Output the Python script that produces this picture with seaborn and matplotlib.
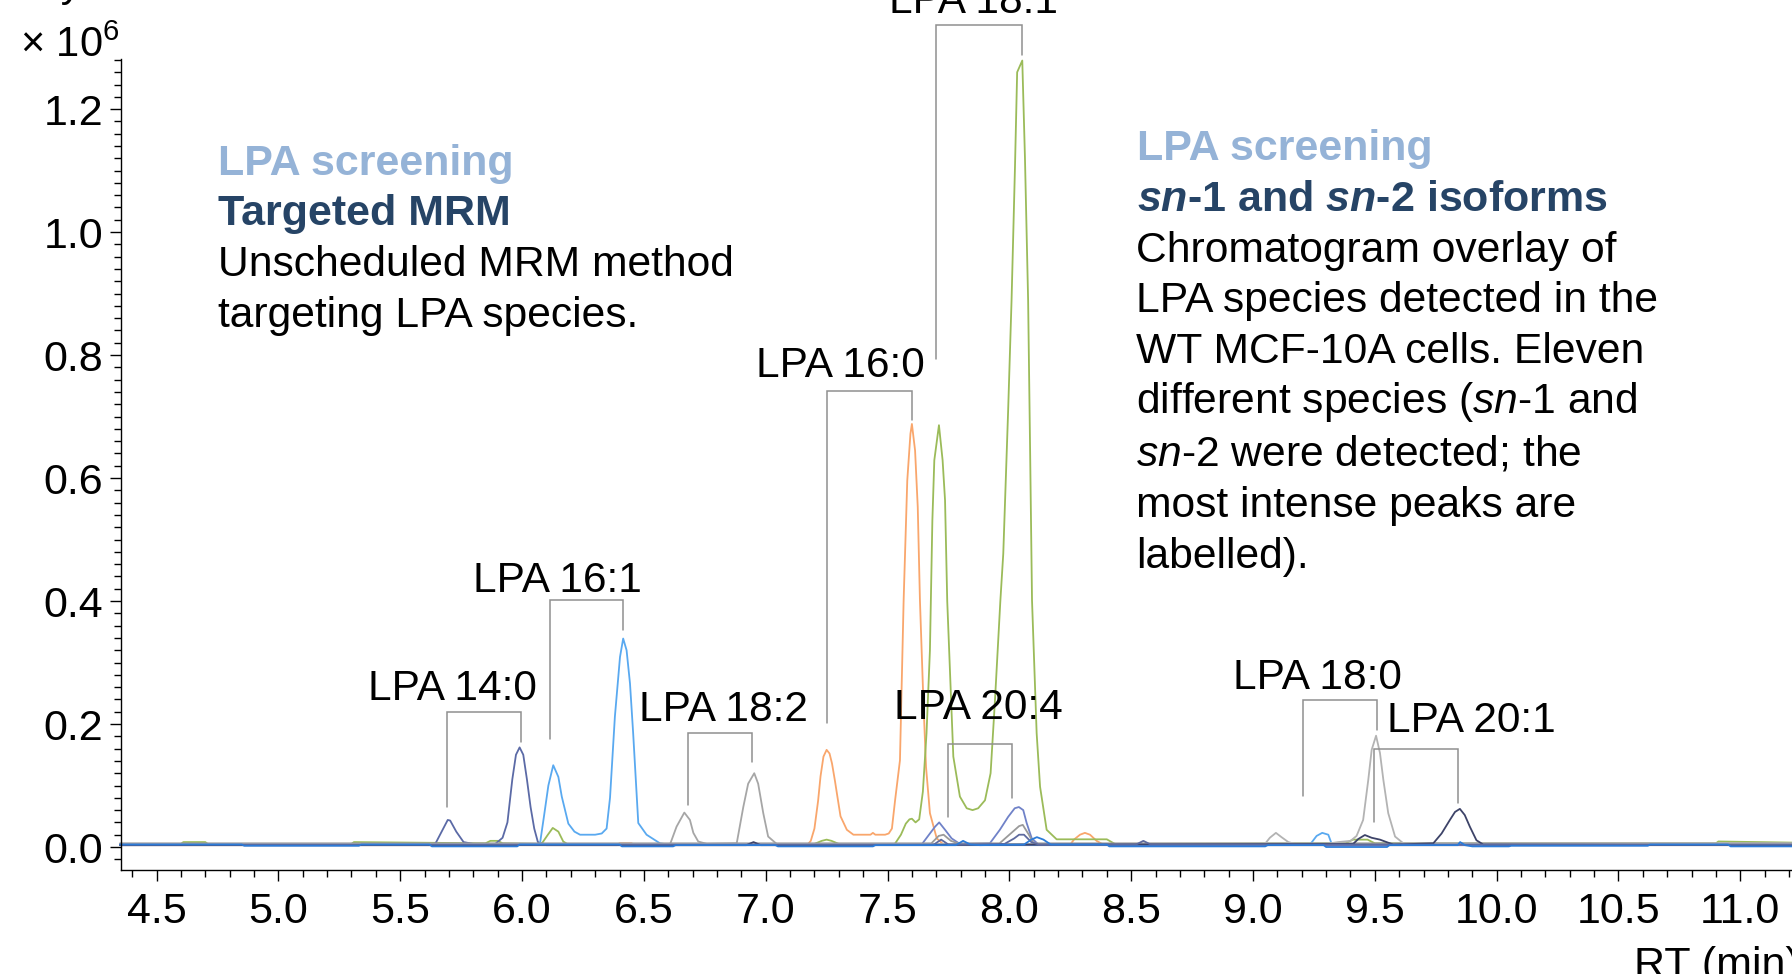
import matplotlib
matplotlib.use("Agg")
import matplotlib.pyplot as plt
import seaborn as sns
import pandas as pd
from matplotlib.ticker import MultipleLocator, FormatStrFormatter

# ---------------- data (intensity in units of 10^6 cps) ----------------
rt_160 = [4.35, 5.0, 6.39, 6.40, 6.45, 6.46, 7.17, 7.185, 7.20, 7.215, 7.225, 7.237, 7.25, 7.262, 7.272, 7.284,
          7.295, 7.307, 7.333, 7.36, 7.43, 7.44, 7.45, 7.49, 7.505, 7.518, 7.531, 7.551, 7.566, 7.581, 7.594, 7.60,
          7.613, 7.624, 7.633, 7.647, 7.658, 7.674, 7.702, 7.73, 8.25, 8.265, 8.29, 8.31, 8.331, 8.358, 8.385, 9.0, 11.4]
in_160 = [0.003, 0.003, 0.003, 0.006, 0.006, 0.003, 0.003, 0.010, 0.030, 0.075, 0.115, 0.147, 0.158, 0.152, 0.136, 0.108,
          0.080, 0.050, 0.028, 0.020, 0.020, 0.023, 0.020, 0.020, 0.022, 0.030, 0.076, 0.141, 0.400, 0.596, 0.672, 0.688,
          0.645, 0.553, 0.401, 0.239, 0.130, 0.055, 0.014, 0.004, 0.004, 0.012, 0.020, 0.023, 0.020, 0.010, 0.004, 0.003, 0.003]

rt_181 = [4.35, 4.6, 4.61, 4.7, 4.71, 5.3, 5.31, 5.85, 5.87, 5.90,
          5.92, 6.08, 6.106, 6.126, 6.149, 6.169, 6.185, 7.2, 7.23, 7.25,
          7.27, 7.30, 7.53, 7.555, 7.575, 7.59, 7.60, 7.615, 7.63, 7.645,
          7.66, 7.674, 7.684, 7.692, 7.711, 7.726, 7.736, 7.745, 7.77, 7.797,
          7.825, 7.849, 7.872, 7.90, 7.923, 7.941, 7.963, 7.975, 7.995, 8.009,
          8.023, 8.032, 8.053, 8.064, 8.077, 8.085, 8.093, 8.112, 8.126, 8.153,
          8.194, 8.40, 8.433, 9.38, 9.41, 9.47, 9.50, 10.9, 10.91, 11.4]
in_181 = [0.005, 0.005, 0.008, 0.008, 0.005, 0.005, 0.008, 0.006, 0.010, 0.010,
          0.006, 0.005, 0.020, 0.031, 0.025, 0.009, 0.005, 0.005, 0.010, 0.012,
          0.010, 0.005, 0.005, 0.020, 0.038, 0.045, 0.046, 0.040, 0.045, 0.090,
          0.185, 0.320, 0.531, 0.629, 0.686, 0.629, 0.564, 0.400, 0.147, 0.082,
          0.063, 0.060, 0.063, 0.076, 0.120, 0.239, 0.400, 0.477, 0.710, 0.889,
          1.105, 1.260, 1.279, 1.121, 0.889, 0.650, 0.401, 0.185, 0.098, 0.028,
          0.0125, 0.0125, 0.005, 0.006, 0.012, 0.012, 0.006, 0.006, 0.009, 0.006]

rt_140 = [4.35, 5.62, 5.645, 5.67, 5.695, 5.705, 5.73, 5.76, 5.80, 5.89, 5.92, 5.94, 5.96, 5.975, 5.99, 6.005,
          6.02, 6.035, 6.05, 6.065, 6.10, 11.4]
in_140 = [0.003, 0.003, 0.006, 0.025, 0.044, 0.043, 0.025, 0.008, 0.005, 0.005, 0.015, 0.040, 0.110, 0.150, 0.162, 0.150,
          0.110, 0.065, 0.030, 0.008, 0.003, 0.003]

rt_161 = [4.35, 6.073, 6.09, 6.108, 6.128, 6.149, 6.163, 6.19, 6.215, 6.238, 6.30, 6.327, 6.347, 6.361, 6.381, 6.402,
          6.415, 6.429, 6.443, 6.456, 6.477, 6.511, 6.566, 6.60, 9.234, 9.261, 9.284, 9.309, 9.323, 11.4]
in_161 = [0.004, 0.004, 0.050, 0.100, 0.133, 0.114, 0.082, 0.038, 0.025, 0.020, 0.020, 0.022, 0.030, 0.080, 0.212, 0.309,
          0.339, 0.320, 0.266, 0.185, 0.039, 0.020, 0.006, 0.004, 0.004, 0.018, 0.023, 0.020, 0.005, 0.004]

rt_182 = [4.35, 6.608, 6.634, 6.666, 6.689, 6.703, 6.723, 6.758, 6.881, 6.908, 6.928, 6.953, 6.969, 6.99, 7.01, 7.045, 11.4]
in_182 = [0.005, 0.005, 0.033, 0.056, 0.044, 0.023, 0.009, 0.005, 0.006, 0.065, 0.103, 0.120, 0.103, 0.055, 0.017, 0.005, 0.005]

rt_204 = [4.35, 7.64, 7.674, 7.695, 7.712, 7.736, 7.763, 7.797, 7.92, 7.961, 7.995, 8.022, 8.039, 8.057, 8.071, 8.092, 8.12, 11.4]
in_204 = [0.003, 0.004, 0.022, 0.033, 0.040, 0.028, 0.014, 0.005, 0.006, 0.028, 0.049, 0.063, 0.065, 0.060, 0.039, 0.014, 0.004, 0.003]

rt_203 = [4.35, 7.68, 7.71, 7.73, 7.76, 7.79, 7.96, 8.00, 8.04, 8.055, 8.08, 8.10, 11.4]
in_203 = [0.006, 0.006, 0.018, 0.020, 0.010, 0.006, 0.006, 0.020, 0.034, 0.036, 0.020, 0.006, 0.006]

rt_180 = [4.35, 9.049, 9.069, 9.094, 9.117, 9.145, 9.172, 9.30, 9.35, 9.40, 9.425, 9.452, 9.473, 9.487, 9.505, 9.521,
          9.535, 9.555, 9.583, 9.617, 11.4]
in_180 = [0.005, 0.005, 0.015, 0.023, 0.016, 0.008, 0.005, 0.005, 0.008, 0.010, 0.018, 0.044, 0.109, 0.158, 0.181, 0.153,
          0.109, 0.055, 0.017, 0.006, 0.006]

rt_201 = [4.35, 6.92, 6.95, 6.98, 9.411, 9.432, 9.459, 9.487, 9.521, 9.548, 9.576, 9.74, 9.774, 9.808, 9.829, 9.849,
          9.869, 9.89, 9.917, 9.945, 11.4]
in_201 = [0.003, 0.003, 0.008, 0.003, 0.005, 0.013, 0.0195, 0.015, 0.012, 0.008, 0.004, 0.006, 0.022, 0.044, 0.057, 0.062,
          0.052, 0.033, 0.011, 0.004, 0.003]

rt_226 = [4.35, 7.69, 7.72, 7.75, 7.98, 8.02, 8.04, 8.06, 8.09, 8.12, 8.52, 8.55, 8.58, 11.4]
in_226 = [0.004, 0.004, 0.012, 0.004, 0.005, 0.014, 0.020, 0.020, 0.008, 0.004, 0.004, 0.010, 0.004, 0.004]

rt_202 = [4.35, 4.85, 4.86, 5.33, 5.34, 5.62, 5.63, 5.98, 5.99, 6.40,
          6.41, 6.62, 6.63, 7.04, 7.05, 7.44, 7.45, 7.78, 7.81, 7.84,
          7.88, 8.06, 8.09, 8.113, 8.14, 8.17, 8.40, 8.41, 9.05, 9.06,
          9.29, 9.30, 9.55, 9.56, 9.84, 9.85, 9.87, 9.90, 10.05, 10.06,
          10.62, 10.63, 10.95, 10.96, 11.4]
in_202 = [0.004, 0.004, 0.002, 0.002, 0.004, 0.004, 0.001, 0.001, 0.004, 0.004,
          0.001, 0.001, 0.003, 0.003, 0.001, 0.001, 0.003, 0.003, 0.010, 0.004,
          0.003, 0.004, 0.012, 0.016, 0.012, 0.004, 0.004, 0.001, 0.001, 0.003,
          0.003, 0.000, 0.000, 0.003, 0.003, 0.008, 0.003, 0.001, 0.001, 0.002,
          0.002, 0.004, 0.004, 0.001, 0.001]

trace_names = ["16:0", "18:1", "14:0", "16:1", "18:2", "20:4", "20:3", "18:0", "20:1", "22:6", "20:2"]
trace_rt = [rt_160, rt_181, rt_140, rt_161, rt_182, rt_204, rt_203, rt_180, rt_201, rt_226, rt_202]
trace_int = [in_160, in_181, in_140, in_161, in_182, in_204, in_203, in_180, in_201, in_226, in_202]
trace_colors = ["#F9A66C", "#9BBB59", "#5B6AA6", "#59A9F0", "#A6A6A6", "#7082C8", "#9A9A9A",
                "#B3B3B3", "#3D4368", "#5E6A9E", "#2C7BD8"]

# bracket annotations: label, label x, label baseline y, left x, left bottom, top, right x, right bottom
labels = ["LPA 14:0", "LPA 16:1", "LPA 18:2", "LPA 16:0", "LPA 18:1", "LPA 20:4", "LPA 18:0", "LPA 20:1"]
label_x = [5.716, 6.147, 6.826, 7.305, 7.852, 7.872, 9.264, 9.896]
label_y = [0.239, 0.415, 0.205, 0.764, 1.357, 0.208, 0.257, 0.187]
br_lx = [5.691, 6.113, 6.680, 7.250, 7.697, 7.747, 9.204, 9.496]
br_lb = [0.065, 0.175, 0.068, 0.201, 0.794, 0.049, 0.083, 0.041]
br_top = [0.220, 0.402, 0.186, 0.742, 1.336, 0.168, 0.239, 0.160]
br_rx = [5.994, 6.414, 6.945, 7.601, 8.050, 8.012, 9.507, 9.842]
br_rb = [0.171, 0.353, 0.138, 0.694, 1.288, 0.080, 0.190, 0.072]

x_ticks = [4.5, 5.0, 5.5, 6.0, 6.5, 7.0, 7.5, 8.0, 8.5, 9.0, 9.5, 10.0, 10.5, 11.0]
y_ticks = [0.0, 0.2, 0.4, 0.6, 0.8, 1.0, 1.2]

# ---------------- style ----------------
sns.set_style("ticks")
plt.rcParams['font.family'] = ['Liberation Sans', 'DejaVu Sans']
plt.rcParams['mathtext.fontset'] = 'custom'
plt.rcParams['mathtext.rm'] = 'Liberation Sans'
plt.rcParams['mathtext.it'] = 'Liberation Sans:italic'
plt.rcParams['mathtext.bf'] = 'Liberation Sans:bold'
try:
    plt.rcParams['mathtext.bfit'] = 'Liberation Sans:italic:bold'
    HAS_BFIT = True
except KeyError:
    HAS_BFIT = False

W, H = 1792, 974
fig = plt.figure(figsize=(W / 100, H / 100), dpi=100)
fig.patch.set_facecolor("white")

xmin, xmax = 4.354, 11.35
ymin, ymax = -0.0374, 1.281
ax = fig.add_axes([121 / W, (H - 870) / H, (1825.6 - 121) / W, (870 - 59.3) / H])
ax.set_facecolor("white")

frames = []
for name, r, v in zip(trace_names, trace_rt, trace_int):
    frames.append(pd.DataFrame({"rt": r, "intensity": v, "species": name}))
df = pd.concat(frames, ignore_index=True)

sns.lineplot(data=df, x="rt", y="intensity", hue="species", hue_order=trace_names,
             palette=dict(zip(trace_names, trace_colors)), estimator=None, sort=False,
             legend=False, linewidth=1.3, ax=ax)
for ln in ax.lines:
    ln.set_clip_on(False)

ax.set_xlim(xmin, xmax)
ax.set_ylim(ymin, ymax)
ax.set_xlabel("")
ax.set_ylabel("")
sns.despine(ax=ax, top=True, right=True)
for s in ("left", "bottom"):
    ax.spines[s].set_linewidth(1.0)
    ax.spines[s].set_color("black")

ax.set_xticks(x_ticks)
ax.set_yticks(y_ticks)
ax.xaxis.set_minor_locator(MultipleLocator(0.1))
ax.yaxis.set_minor_locator(MultipleLocator(0.02))
ax.xaxis.set_major_formatter(FormatStrFormatter("%.1f"))
ax.yaxis.set_major_formatter(FormatStrFormatter("%.1f"))
ax.tick_params(axis="both", which="major", direction="out", length=8, width=1.0,
               labelsize=31, colors="black")
ax.tick_params(axis="both", which="minor", direction="out", length=5, width=1.0, colors="black")
ax.tick_params(axis="x", which="major", pad=8)
ax.tick_params(axis="y", which="major", pad=5)

# brackets and peak labels
br_color = "#8F8F8F"
for i in range(len(labels)):
    ax.plot([br_lx[i], br_lx[i], br_rx[i], br_rx[i]],
            [br_lb[i], br_top[i], br_top[i], br_rb[i]],
            color=br_color, lw=1.1, clip_on=False, solid_joinstyle="miter")
    ax.text(label_x[i], label_y[i], labels[i], ha="center", va="baseline",
            fontsize=30.5, color="black", clip_on=False)

# ---------------- figure texts (pixel positions) ----------------
def ftxt(xp, yp, s, **kw):
    fig.text(xp / W, 1 - yp / H, s, ha=kw.pop("ha", "left"), va="baseline", **kw)

light_blue = "#95B3D7"
navy = "#264466"

ftxt(218, 175, "LPA screening", fontsize=31, fontweight="bold", color=light_blue)
ftxt(218, 225, "Targeted MRM", fontsize=31, fontweight="bold", color=navy)
ftxt(218, 276, "Unscheduled MRM method", fontsize=30.7, color="black")
ftxt(218, 327, "targeting LPA species.", fontsize=30.7, color="black")

if HAS_BFIT:
    sn_b = r"$\mathbfit{sn}$"
else:
    sn_b = r"$\mathit{sn}$"
ftxt(1137, 160, "LPA screening", fontsize=31, fontweight="bold", color=light_blue)
ftxt(1137, 211, sn_b + "-1 and " + sn_b + "-2 isoforms", fontsize=31, fontweight="bold", color=navy)
body = ["Chromatogram overlay of",
        "LPA species detected in the",
        "WT MCF-10A cells. Eleven",
        r"different species ($\mathit{sn}$-1 and",
        r"$\mathit{sn}$-2 were detected; the",
        "most intense peaks are",
        "labelled)."]
body_y = [261.7, 312.3, 363.3, 413.3, 465.0, 516.7, 567.7]
for s, yp in zip(body, body_y):
    ftxt(1136, yp, s, fontsize=30.7, color="black")

# axis label fragments (cropped in the original)
ftxt(120, 57, r"× 10$^{6}$", fontsize=30, color="black", ha="right")
ftxt(82, -4, "Intensity", fontsize=30, color="black", ha="right")
ftxt(1634, 977, "RT (min)", fontsize=31, color="black")

fig.savefig("out.png", dpi=100, facecolor="white")
